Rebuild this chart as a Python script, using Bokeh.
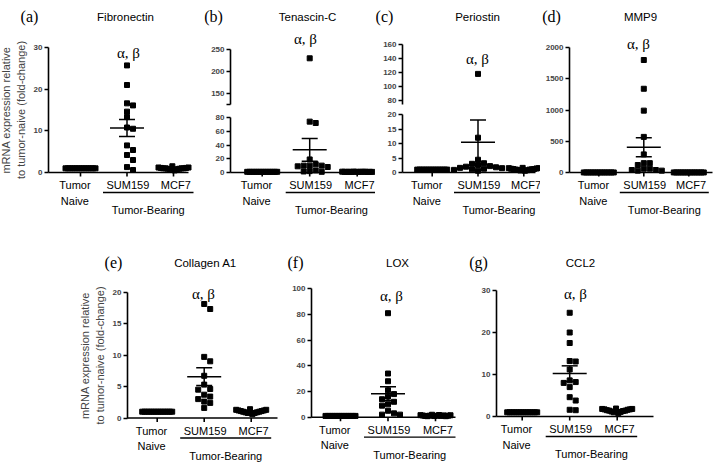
import numpy as np
from bokeh.plotting import figure
from bokeh.models import Range1d, FixedTicker, Label, Spacer
from bokeh.layouts import row, column
from bokeh.embed import file_html
from bokeh.resources import INLINE

# ---------------- data ----------------
group_line1 = ["Tumor", "SUM159", "MCF7"]
group_line2 = ["Naive", "", ""]
bracket_text = "Tumor-Bearing"
sig_text = "α, β"
y_title = "mRNA expression relative\nto tumor-naive (fold-change)"
genes = ["Fibronectin", "Tenascin-C", "Periostin", "MMP9", "Collagen A1", "LOX", "CCL2"]
letters = ["(a)", "(b)", "(c)", "(d)", "(e)", "(f)", "(g)"]

fib_naive = [1.0, 1.0, 1.0, 1.0, 1.0, 1.0, 1.0, 1.0, 1.0, 1.0, 1.0, 1.0, 1.0, 1.0]
fib_sum159 = [25.7, 21.0, 16.6, 16.1, 14.6, 13.3, 10.8, 10.5, 6.5, 5.4, 4.2, 3.0, 1.3, 0.6]
fib_mcf7 = [1.2, 1.1, 1.0, 1.0, 0.9, 0.8, 1.5, 0.5, 0.8, 0.9, 1.0, 1.0, 1.1, 1.2]

tnc_naive = [1.0, 1.0, 1.0, 1.0, 1.0, 1.0, 1.0, 1.0, 1.0, 1.0, 1.0, 1.0, 1.0, 1.0]
tnc_sum159 = [230, 74, 72, 19, 12, 10, 9, 10, 10, 8, 3, 2, 1.5, 1]
tnc_mcf7 = [1.2, 1.0, 0.9, 1.1, 0.8, 1.3, 1.0, 0.9, 1.1, 1.0, 1.2, 0.8, 1.0, 0.9]

post_naive = [1.0, 1.0, 1.0, 1.0, 1.0, 1.0, 1.0, 1.0, 1.0, 1.0, 1.0, 1.0, 1.0, 1.0]
post_sum159 = [118, 12, 4.4, 3.2, 3.0, 2.6, 2.2, 2.0, 1.8, 1.6, 1.5, 1.3, 1.1, 0.9, 0.6]
post_mcf7 = [1.5, 1.3, 1.2, 1.0, 0.9, 0.7, 1.6, 0.6, 0.8, 1.0, 1.1, 1.2, 1.4, 1.5]

mmp9_naive = [1.0, 1.0, 1.0, 1.0, 1.0, 1.0, 1.0, 1.0, 1.0, 1.0, 1.0, 1.0, 1.0, 1.0]
mmp9_sum159 = [1800, 1340, 990, 570, 290, 150, 150, 120, 60, 40, 30, 30, 40, 60]
mmp9_mcf7 = [1.1, 0.9, 1.0, 1.2, 0.8, 1.0, 1.1, 0.9, 1.0, 1.3, 0.9, 1.0, 1.1, 0.8]

col_naive = [1.0, 1.0, 1.0, 1.0, 1.0, 1.0, 1.0, 1.0, 1.0, 1.0, 1.0, 1.0, 1.0, 1.0]
col_sum159 = [18.1, 17.3, 9.7, 9.0, 6.7, 5.3, 4.6, 4.5, 3.7, 3.4, 3.0, 2.6, 2.4, 1.6]
col_mcf7 = [1.3, 1.2, 1.1, 1.0, 0.9, 0.8, 1.4, 0.6, 0.8, 0.9, 1.0, 1.1, 1.2, 1.3]

lox_naive = [1.0, 1.0, 1.0, 1.0, 1.0, 1.0, 1.0, 1.0, 1.0, 1.0, 1.0, 1.0, 1.0, 1.0]
lox_sum159 = [81, 34, 28, 21, 18, 16, 14, 12, 10, 9, 5, 3, 2, 2]
lox_mcf7 = [1.6, 1.3, 1.0, 0.8, 1.2, 1.9, 0.9, 1.1, 1.7, 1.0, 1.4, 0.8, 1.2, 1.5]

ccl2_naive = [1.0, 1.0, 1.0, 1.0, 1.0, 1.0, 1.0, 1.0, 1.0, 1.0, 1.0, 1.0, 1.0, 1.0]
ccl2_sum159 = [24.7, 20.0, 17.5, 13.2, 13.1, 11.2, 8.6, 8.2, 8.0, 7.0, 4.6, 3.8, 1.6, 1.5]
ccl2_mcf7 = [1.8, 1.7, 1.5, 1.4, 1.2, 1.0, 1.9, 0.8, 1.1, 1.3, 1.4, 1.6, 1.7, 1.8]

# ---------------- layout geometry (page pixels) ----------------
geo_a = dict(left=0, axis=48, right=203, cats=(80, 127, 173), xend=188, y0=172,
             segs=[dict(top=0, bottom=225, ftop=0, fbot=225, map=(172, 0, 47, 30),
                        ticks=[0, 10, 20, 30], bounds=(0, 30))],
             title=(125, 16), letter=(29, 16), sig=(128, 52), ylab=True)
geo_b = dict(left=203, axis=230, right=375, cats=(261.7, 309, 356.7), xend=368, y0=172,
             segs=[dict(top=0, bottom=110, ftop=0, fbot=110, map=(93, 150, 49, 250),
                        ticks=[125, 150, 200, 250], hide=[125], bounds=(125, 250)),
                   dict(top=110, bottom=225, ftop=110, fbot=225, map=(172, 0, 117, 80),
                        ticks=[0, 20, 40, 60, 80], bounds=(0, 80))],
             title=(307, 16), letter=(213, 16), sig=(305, 38))
geo_c = dict(left=375, axis=402, right=540, cats=(431.7, 476.7, 523.3), xend=535, y0=172,
             segs=[dict(top=0, bottom=109, ftop=0, fbot=109, map=(100, 80, 44, 160),
                        ticks=[80, 100, 120, 140, 160], bounds=(75, 160)),
                   dict(top=109, bottom=225, ftop=109, fbot=225, map=(172, 0, 114, 20),
                        ticks=[0, 5, 10, 15, 20], bounds=(0, 20))],
             title=(477, 16), letter=(384, 16), sig=(477, 58))
geo_d = dict(left=540, axis=569, right=723, cats=(598.3, 643.3, 688.3), xend=712, y0=172,
             segs=[dict(top=0, bottom=225, ftop=0, fbot=225, map=(172, 0, 47, 2000),
                        ticks=[0, 500, 1000, 1500, 2000], bounds=(0, 2000))],
             title=(640, 16), letter=(551, 16), sig=(638, 43))
geo_e = dict(left=70, axis=127, right=284, cats=(156.7, 204, 250.7), xend=277, y0=417.5,
             segs=[dict(top=225, bottom=467, ftop=241, fbot=467, map=(417.5, 0, 291.5, 20),
                        ticks=[0, 5, 10, 15, 20], bounds=(0, 20))],
             title=(205, 262), letter=(113, 262), sig=(203, 293), ylab=True)
geo_f = dict(left=284, axis=311, right=466, cats=(340, 388.3, 435), xend=455, y0=416.7,
             segs=[dict(top=225, bottom=467, ftop=241, fbot=467, map=(416.7, 0, 288.3, 100),
                        ticks=[0, 20, 40, 60, 80, 100], bounds=(0, 100))],
             title=(397, 262), letter=(295, 262), sig=(391, 295))
geo_g = dict(left=466, axis=496, right=723, cats=(521.7, 569.3, 616.7), xend=653, y0=416,
             segs=[dict(top=225, bottom=467, ftop=241, fbot=467, map=(416, 0, 290, 30),
                        ticks=[0, 10, 20, 30], bounds=(0, 30))],
             title=(580, 262), letter=(478, 262), sig=(575, 293))

SANS = "Liberation Sans"
SERIF = "Liberation Serif"
LW = 1.6


def lin(pa, va, pb, vb):
    k = (vb - va) / (pb - pa)
    return lambda px: va + (px - pa) * k


def inv(pa, va, pb, vb):
    k = (pb - pa) / (vb - va)
    return lambda v: pa + (v - va) * k


def swarm_offsets(vals, to_px, step=3.0, size=5.2):
    vals = np.asarray(vals, float)
    order = np.argsort(-vals, kind="stable")
    placed = []
    offs = np.zeros(len(vals))
    for i in order:
        y = to_px(vals[i])
        k = 0
        chosen = None
        while chosen is None:
            cands = [0.0] if k == 0 else [k * step, -k * step]
            for c in cands:
                if all(abs(c - px) >= size or abs(y - py) >= size for px, py in placed):
                    chosen = c
                    break
            k += 1
        offs[i] = chosen
        placed.append((chosen, y))
    return offs


def add_label(p, x, y, text, font, size, align="center"):
    p.add_layout(Label(x=x, y=y, text=text, text_font=font, text_font_size=size,
                       text_align=align, text_baseline="middle", text_color="black"))


def build_panel(gi, naive, s159, mcf7, geo):
    c0, c2 = geo["cats"][0], geo["cats"][2]
    fx = lin(c0, 0.0, c2, 2.0)
    spacing = (c2 - c0) / 2.0
    segs = geo["segs"]

    def to_px(v):
        for s in segs:
            lo, hi = s["bounds"]
            if lo <= v <= hi:
                return inv(*s["map"])(v)
        s = min(segs, key=lambda s: min(abs(v - s["bounds"][0]), abs(v - s["bounds"][1])))
        return inv(*s["map"])(v)

    groups = [np.asarray(naive, float), np.asarray(s159, float), np.asarray(mcf7, float)]
    offsets = [np.linspace(-15, 15, len(groups[0])),
               swarm_offsets(groups[1], to_px),
               np.linspace(-15, 15, len(groups[2]))]

    figs = []
    for si, s in enumerate(segs):
        fy = lin(*s["map"])
        fw = int(round(geo["right"] - geo["left"]))
        fh = int(round(s["fbot"] - s["ftop"]))
        p = figure(frame_width=fw, frame_height=fh,
                   x_range=Range1d(fx(geo["left"]), fx(geo["right"])),
                   y_range=Range1d(fy(s["fbot"]), fy(s["ftop"])),
                   x_axis_location=None, y_axis_location="left",
                   min_border_left=0, min_border_right=0,
                   min_border_top=int(round(s["ftop"] - s["top"])),
                   min_border_bottom=int(round(s["bottom"] - s["fbot"])),
                   output_backend="svg", toolbar_location=None)
        p.outline_line_color = None
        p.grid.visible = False
        p.background_fill_color = "white"
        p.border_fill_color = "white"

        ax = p.yaxis[0]
        ax.fixed_location = fx(geo["axis"])
        ax.ticker = FixedTicker(ticks=s["ticks"])
        ax.bounds = s["bounds"]
        if "hide" in s:
            ax.major_label_overrides = {t: "" for t in s["hide"]}
        ax.major_label_text_font = SANS
        ax.major_label_text_font_size = "8px"
        ax.major_label_text_font_style = "bold"
        ax.major_label_standoff = 2
        ax.major_tick_out = 4
        ax.major_tick_in = 0
        ax.minor_tick_out = 0
        ax.minor_tick_in = 0
        ax.axis_line_width = LW
        ax.major_tick_line_width = LW
        ax.axis_line_color = "black"
        ax.major_tick_line_color = "black"
        if geo.get("ylab") and si == len(segs) - 1:
            ax.axis_label = y_title
            ax.axis_label_text_font = SANS
            ax.axis_label_text_font_size = "11px"
            ax.axis_label_text_font_style = "normal"
            ax.axis_label_standoff = 4

        # points + mean / SEM
        for g in range(3):
            vals = groups[g]
            xs = g + offsets[g] / spacing
            p.scatter(xs, vals, marker="square", size=5, fill_color="black", line_color="black")
            m = float(np.mean(vals))
            se = float(np.std(vals, ddof=1) / np.sqrt(len(vals)))
            hw, cw = 17.0 / spacing, 8.0 / spacing
            p.segment(x0=[g - hw, g - cw, g - cw, g], y0=[m, m + se, m - se, m - se],
                      x1=[g + hw, g + cw, g + cw, g], y1=[m, m + se, m - se, m + se],
                      line_color="black", line_width=1.5)

        if si == 0:
            add_label(p, fx(geo["title"][0]), fy(geo["title"][1]), genes[gi], SANS, "11.5px")
            add_label(p, fx(geo["letter"][0]), fy(geo["letter"][1]), letters[gi], SERIF, "16px")
            add_label(p, fx(geo["sig"][0]), fy(geo["sig"][1]), sig_text, SERIF, "15px")

        if si == len(segs) - 1:
            y0 = geo["y0"]
            # x axis and its ticks
            p.segment(x0=[fx(geo["axis"])], y0=[0], x1=[fx(geo["xend"])], y1=[0],
                      line_color="black", line_width=LW)
            p.segment(x0=[0, 1, 2], y0=[0, 0, 0], x1=[0, 1, 2], y1=[fy(y0 + 4)] * 3,
                      line_color="black", line_width=LW)
            dx = [-0.12, 0.02, 0.05]
            for g in range(3):
                add_label(p, g + dx[g], fy(y0 + 12.5), group_line1[g], SANS, "11px")
                if group_line2[g]:
                    add_label(p, g + dx[g], fy(y0 + 28), group_line2[g], SANS, "11px")
            xb0 = 1 - 24.0 / spacing
            xb1 = 2 + 20.0 / spacing
            p.segment(x0=[xb0], y0=[fy(y0 + 20)], x1=[xb1], y1=[fy(y0 + 20)],
                      line_color="black", line_width=1.3)
            add_label(p, (xb0 + xb1) / 2, fy(y0 + 37.5), bracket_text, SANS, "11px")
        figs.append(p)
    if len(figs) == 1:
        return figs[0]
    return column(*figs, spacing=0)


pa = build_panel(0, fib_naive, fib_sum159, fib_mcf7, geo_a)
pb = build_panel(1, tnc_naive, tnc_sum159, tnc_mcf7, geo_b)
pc = build_panel(2, post_naive, post_sum159, post_mcf7, geo_c)
pd = build_panel(3, mmp9_naive, mmp9_sum159, mmp9_mcf7, geo_d)
pe = build_panel(4, col_naive, col_sum159, col_mcf7, geo_e)
pf = build_panel(5, lox_naive, lox_sum159, lox_mcf7, geo_f)
pg = build_panel(6, ccl2_naive, ccl2_sum159, ccl2_mcf7, geo_g)

row1 = row(pa, pb, pc, pd, spacing=0)
row2 = row(Spacer(width=geo_e["left"] - geo_a["left"], height=242), pe, pf, pg, spacing=0)
page = column(row1, row2, spacing=0)

open("out.html", "w").write(file_html(page, INLINE))
